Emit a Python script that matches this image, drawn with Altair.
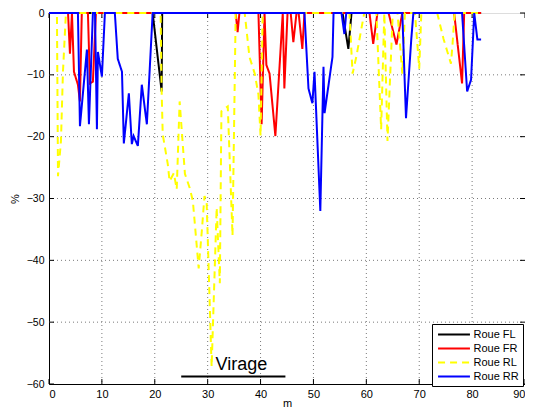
import altair as alt
import pandas as pd

series_names = ["Roue FL", "Roue FR", "Roue RL", "Roue RR"]
series_colors = ["#000000", "#ff0000", "#ffff00", "#0000ff"]
series_dashes = [[1, 0], [1, 0], [7, 5], [1, 0]]

x_fl = [0, 19.6, 21.3, 21.4, 55.5, 56.6, 57.2, 81.7]
y_fl = [0, 0, -12.7, 0, 0, -5.8, 0, 0]

x_fr = [0, 3.6, 3.96, 4.34, 4.72, 5.47, 5.85, 6.2, 7.36, 7.74,
        8.3, 8.87, 35.3, 35.66, 36.0, 39.6, 40.2, 40.75, 41.1, 41.7,
        42.8, 44.2, 44.5, 45.1, 45.7, 46.2, 46.8, 47.2, 47.9, 48.3,
        60.6, 61.3, 62.1, 64.2, 65.7, 66.8, 76.6, 78.1, 78.5, 81.7]
y_fr = [0, 0, -6.6, 0, -9.5, -11.6, -14.3, 0, 0, -11.4,
        -11.1, 0, 0, -3.1, 0, 0, -18, 0, -8.4, -9.8,
        -19.9, 0, -12.2, 0, 0, -4.7, 0, 0, -5.8, 0,
        0, -5.0, 0, 0, -5.1, 0, 0, -11.4, 0, 0]

x_rl = [0, 1.5, 1.7, 2.26, 2.64, 3.2, 21.1, 21.3, 21.5, 22.45,
        22.8, 23.6, 24.15, 24.7, 25.7, 26.6, 27.2, 28.3, 28.9, 29.4,
        29.8, 30.75, 31.7, 32.3, 32.6, 33.8, 34.7, 35.3, 37.0, 37.9,
        38.9, 39.6, 40.0, 40.4, 56.8, 57.4, 58.1, 59.6, 61.9, 62.8,
        63.4, 64.0, 65.0, 65.9, 66.8, 67.3, 69.2, 70.0, 70.4, 73.4,
        74.6, 76.0, 76.3, 76.7, 81.7]
y_rl = [0, 0, -26.4, -20.7, -9.5, 0, 0, -12.7, -19.6, -24.4,
        -27.2, -25.9, -28.5, -14.3, -26.0, -28.3, -30.4, -41.3, -35.2, -29.6,
        -30.4, -57.2, -31.5, -43.7, -15.9, -15.1, -36.0, 0, 0, -7.1,
        -9.8, -13.2, -19.9, 0, 0, -9.8, -7.1, 0, 0, -18.8,
        0, -20.7, 0, 0, -9.8, 0, 0, -9.0, 0, 0,
        -4.2, -8.2, -5.0, 0, 0]

x_rr = [0, 5.47, 5.85, 7.17, 7.55, 8.3, 8.7, 9.06, 9.25, 10.0,
        10.57, 12.45, 13.0, 13.8, 14.15, 15.1, 15.66, 16.0, 16.8, 17.55,
        18.5, 19.6, 48.3, 49.06, 49.8, 50.2, 51.3, 51.9, 52.1, 53.6,
        53.8, 55.3, 55.85, 56.2, 66.8, 67.5, 68.5, 68.9, 78.1, 79.06,
        79.8, 80.4, 81.0, 81.7]
y_rr = [0, 0, -18.3, -5.9, -18.0, 0, 0, -18.8, -6.3, -10.3,
        0, 0, -7.4, -9.5, -21.1, -13.0, -21.2, -19.9, -21.5, -11.6,
        -18.0, 0, 0, -12.2, -14.6, -9.5, -32.0, -8.7, -16.2, -7.1,
        0, 0, -3.4, 0, 0, -17.0, -4.2, 0, 0, -12.7,
        -10.8, 0, -4.3, -4.3]

x_ticks = [0, 10, 20, 30, 40, 50, 60, 70, 80, 90]
y_ticks = [-60, -50, -40, -30, -20, -10, 0]
x_grid = [10, 20, 30, 40, 50, 60, 70, 80]
y_grid = [-50, -40, -30, -20, -10]

annot_text = "Virage"
annot_text_x = 31.5
annot_text_y = -57.7
annot_line_x = [25.0, 44.7]
annot_line_y = -58.8

W, H = 476, 371
FONT = "Liberation Sans"

rows = []
for name, xs, ys in zip(series_names, [x_fl, x_fr, x_rl, x_rr], [y_fl, y_fr, y_rl, y_rr]):
    for i, (a, b) in enumerate(zip(xs, ys)):
        rows.append({"series": name, "x": a, "y": b, "idx": i})
df = pd.DataFrame(rows)

xscale = alt.Scale(domain=[0, 90], nice=False, zero=False)
yscale = alt.Scale(domain=[-60, 0], nice=False, zero=False)

xgrid_df = pd.DataFrame({"x": x_grid})
ygrid_df = pd.DataFrame({"y": y_grid})
xt_df = pd.DataFrame({"x": x_ticks})
yt_df = pd.DataFrame({"y": y_ticks})

grid_style = dict(color="#7a7a7a", strokeWidth=1, strokeDash=[1, 3])

gx = alt.Chart(xgrid_df).mark_rule(**grid_style).encode(
    x=alt.X("x:Q", scale=xscale, axis=alt.Axis(values=x_ticks, title="m", grid=False, ticks=False, tickSize=0,
                                               labelPadding=4, titleY=22, titleBaseline="alphabetic",
                                               domainColor="black",
                                               labelFontSize=11, titleFontSize=11, titleFontWeight="normal",
                                               labelColor="black", titleColor="black", labelFont=FONT, titleFont=FONT)),
    y=alt.value(0), y2=alt.value(H))
gy = alt.Chart(ygrid_df).mark_rule(**grid_style).encode(
    y=alt.Y("y:Q", scale=yscale, axis=alt.Axis(values=y_ticks, title="%", grid=False, ticks=False, tickSize=0,
                                               labelPadding=5, titlePadding=6, domainColor="black",
                                               labelFontSize=10.5, titleFontSize=11, titleFontWeight="normal",
                                               labelColor="black", titleColor="black", labelFont=FONT, titleFont=FONT)),
    x=alt.value(0), x2=alt.value(W))

tick_style = dict(color="black", strokeWidth=1)
tb = alt.Chart(xt_df).mark_rule(**tick_style).encode(x=alt.X("x:Q", scale=xscale), y=alt.value(H), y2=alt.value(H - 5))
tt = alt.Chart(xt_df).mark_rule(**tick_style).encode(x=alt.X("x:Q", scale=xscale), y=alt.value(0), y2=alt.value(5))
tl = alt.Chart(yt_df).mark_rule(**tick_style).encode(y=alt.Y("y:Q", scale=yscale), x=alt.value(0), x2=alt.value(5))
tr = alt.Chart(yt_df).mark_rule(**tick_style).encode(y=alt.Y("y:Q", scale=yscale), x=alt.value(W), x2=alt.value(W - 5))

legend = alt.Legend(title=None, orient="none", legendX=383, legendY=311,
                    symbolType="M-2.9,0H2.9", symbolSize=121, symbolStrokeWidth=2,
                    symbolOffset=11.5, labelOffset=13,
                    labelFont=FONT, labelFontSize=11, labelColor="black",
                    padding=4, rowPadding=2,
                    strokeColor="black", fillColor="white", cornerRadius=0)

lines = alt.Chart(df).mark_line(strokeWidth=2).encode(
    x=alt.X("x:Q", scale=xscale),
    y=alt.Y("y:Q", scale=yscale),
    color=alt.Color("series:N", scale=alt.Scale(domain=series_names, range=series_colors), legend=legend),
    strokeDash=alt.StrokeDash("series:N", scale=alt.Scale(domain=series_names, range=series_dashes), legend=legend),
    order=alt.Order("idx:Q"),
)

annot_line = alt.Chart(pd.DataFrame({"x": [annot_line_x[0]], "x2": [annot_line_x[1]], "y": [annot_line_y]})).mark_rule(
    color="black", strokeWidth=2).encode(x=alt.X("x:Q", scale=xscale), x2="x2:Q", y=alt.Y("y:Q", scale=yscale))
annot = alt.Chart(pd.DataFrame({"x": [annot_text_x], "y": [annot_text_y], "t": [annot_text]})).mark_text(
    align="left", baseline="alphabetic", fontSize=18, font=FONT, color="black").encode(
    x=alt.X("x:Q", scale=xscale), y=alt.Y("y:Q", scale=yscale), text="t:N")

chart = alt.layer(gx, gy, tb, tt, tl, tr, lines, annot_line, annot).properties(
    width=W, height=H,
    autosize=alt.AutoSizeParams(type="none"),
    padding={"left": 41, "top": 5, "right": 0, "bottom": 23},
).configure_view(stroke="black", strokeWidth=1).configure(background="white")

chart.save("out.html", embed_options={"renderer": "svg", "actions": False})
